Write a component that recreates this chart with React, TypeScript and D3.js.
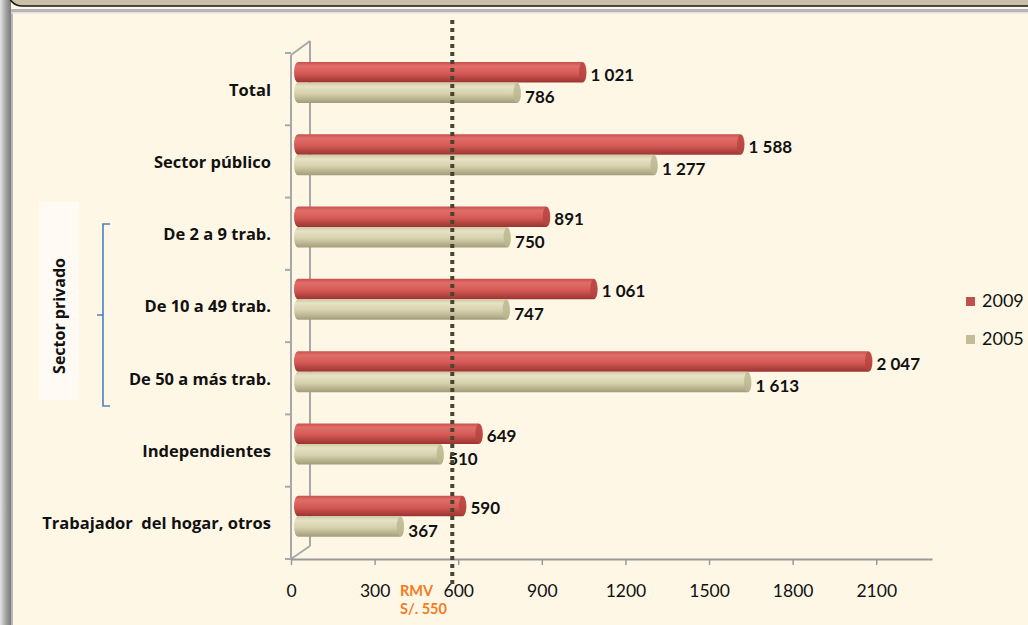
import React, { useEffect, useRef } from "react";
import * as d3 from "d3";

const categories = [
  "Total",
  "Sector público",
  "De 2 a 9 trab.",
  "De 10 a 49 trab.",
  "De 50 a más trab.",
  "Independientes",
  "Trabajador  del hogar, otros",
];
const values2009 = [1021, 1588, 891, 1061, 2047, 649, 590];
const values2005 = [786, 1277, 750, 747, 1613, 510, 367];
const seriesNames = ["2009", "2005"];
const xTicks = [0, 300, 600, 900, 1200, 1500, 1800, 2100];
const rmvValue = 550;

const W = 1028;
const H = 625;
const FONT = "Lato, 'Open Sans', sans-serif";
const LABEL_FONT = "'Open Sans', Lato, sans-serif";

const fmt = d3.formatLocale({
  decimal: ",",
  thousands: " ",
  grouping: [3],
  currency: ["", ""],
}).format(",d");

function App() {
  const axisRef = useRef<SVGGElement | null>(null);

  const x = d3.scaleLinear().domain([0, 2300]).range([291, 932]);
  const y = d3.scaleBand().domain(categories).range([53, 559]).padding(0);
  const depth = 7; // 3d offset of bars toward the back wall
  const barH = 20.5;

  useEffect(() => {
    const g = d3.select(axisRef.current);
    g.selectAll("*").remove();
    const axis = d3
      .axisBottom(x)
      .tickValues(xTicks)
      .tickSizeInner(6)
      .tickSizeOuter(0)
      .tickPadding(20)
      .tickFormat((d) => String(d));
    g.attr("transform", "translate(0,559)").call(axis);
    g.select(".domain").attr("stroke", "#9a9a9a").attr("stroke-width", 2);
    g.selectAll(".tick line").attr("stroke", "#9a9a9a").attr("stroke-width", 1.5);
    g.selectAll(".tick text")
      .attr("font-family", FONT)
      .attr("font-size", 17.5)
      .attr("fill", "#111");
  }, []);

  const bars = categories.flatMap((c, i) => [
    { cat: c, s: 0, v: values2009[i] },
    { cat: c, s: 1, v: values2005[i] },
  ]);

  const xBase = x(0) + depth;
  const rmvX = x(rmvValue) + depth + 1;

  return (
    <svg
      width={W}
      height={H}
      style={{ position: "absolute", left: 0, top: 0, display: "block" }}
    >
      <defs>
        <linearGradient id="g2009" x1="0" y1="0" x2="0" y2="1">
          <stop offset="0" stopColor="#c9504c" />
          <stop offset="0.2" stopColor="#e06e6a" />
          <stop offset="0.55" stopColor="#d65a56" />
          <stop offset="1" stopColor="#9a3431" />
        </linearGradient>
        <linearGradient id="g2005" x1="0" y1="0" x2="0" y2="1">
          <stop offset="0" stopColor="#cfc9a3" />
          <stop offset="0.2" stopColor="#e6e2c4" />
          <stop offset="0.55" stopColor="#d6d1ad" />
          <stop offset="1" stopColor="#a39c78" />
        </linearGradient>
        <linearGradient id="shadowL" x1="0" y1="0" x2="1" y2="0">
          <stop offset="0" stopColor="#e4e4e4" />
          <stop offset="0.6" stopColor="#9c9c9c" />
          <stop offset="1" stopColor="#7a7a7a" />
        </linearGradient>
      </defs>

      {/* frame */}
      <rect x={0} y={0} width={W} height={H} fill="#fff7e6" />
      <rect x={0} y={0} width={11} height={H} fill="url(#shadowL)" />
      <rect x={11} y={13} width={2} height={H} fill="#b8b8b8" />
      <rect x={8} y={-24} width={W + 20} height={30} rx={14} fill="#c9c1a7" stroke="#1a1a1a" strokeWidth={1.6} />
      <rect x={11} y={9} width={W} height={4} fill="#b5b5b5" />
      <rect x={11} y={12} width={W} height={1.5} fill="#e0e0e0" />

      {/* walls */}
      <g stroke="#a8a8a8" strokeWidth={2} fill="none">
        <line x1={291} y1={55} x2={291} y2={559} />
        <line x1={310} y1={41} x2={310} y2={546} />
        <line x1={291} y1={55} x2={310} y2={41} />
        <line x1={291} y1={559} x2={310} y2={546} />
        {y.domain().concat(["end"]).map((c, i) => {
          const yy = 53 + i * y.bandwidth();
          return <line key={i} x1={285} x2={291} y1={yy} y2={yy} />;
        })}
      </g>

      {/* bars */}
      {bars.map((b, i) => {
        const y0 = (y(b.cat) as number) + 9 + b.s * barH;
        const x1 = x(b.v) + depth;
        const r = barH / 2;
        const rx = 4;
        const cap = b.s === 0 ? "#b5433f" : "#bdb690";
        return (
          <g key={i}>
            <path
              d={`M${xBase},${y0} L${x1},${y0} A${rx},${r} 0 0 1 ${x1},${y0 + barH} L${xBase},${y0 + barH} A${rx},${r} 0 0 1 ${xBase},${y0} Z`}
              fill={`url(#g${seriesNames[b.s]})`}
            />
            <ellipse cx={x1} cy={y0 + r} rx={rx - 0.5} ry={r - 0.5} fill={cap} opacity={0.8} />
            <text
              x={x1 + rx + 4}
              y={y0 + r + (b.s === 0 ? 4 : 6)}
              dominantBaseline="middle"
              fontFamily={FONT}
              fontWeight="bold"
              fontSize={17}
              fill="#111"
            >
              {fmt(b.v)}
            </text>
          </g>
        );
      })}

      {/* category labels */}
      {categories.map((c) => (
        <text
          key={c}
          x={271}
          y={(y(c) as number) + y.bandwidth() / 2 + 2}
          textAnchor="end"
          dominantBaseline="middle"
          fontFamily={LABEL_FONT}
          fontWeight="bold"
          fontSize={16.5}
          fill="#111"
          style={{ whiteSpace: "pre" }}
        >
          {c}
        </text>
      ))}

      <g ref={axisRef} />

      {/* RMV line */}
      <line
        x1={rmvX}
        x2={rmvX}
        y1={20}
        y2={584}
        stroke="#4a4330"
        strokeWidth={4}
        strokeDasharray="4 4"
      />
      <text x={400} y={592} dominantBaseline="middle" fontFamily={FONT} fontWeight="bold" fontSize={14.5} fill="#f47b20">
        RMV
      </text>
      <text x={400} y={610} dominantBaseline="middle" fontFamily={FONT} fontWeight="bold" fontSize={14.5} fill="#f47b20">
        S/. 550
      </text>

      {/* sector privado group */}
      <rect x={39} y={202} width={40} height={198} fill="#fffaf4" />
      <text
        transform="translate(61,316) rotate(-90)"
        textAnchor="middle"
        dominantBaseline="middle"
        fontFamily={LABEL_FONT}
        fontWeight="bold"
        fontSize={16}
        fill="#111"
      >
        Sector privado
      </text>
      <path
        d="M110,224 L103,224 L103,406 L110,406 M103,315 L97,315"
        fill="none"
        stroke="#4f81bd"
        strokeWidth={1.6}
      />

      {/* legend */}
      {seriesNames.map((s, i) => (
        <g key={s} transform={`translate(966,${297 + i * 38})`}>
          <rect width={9} height={9} fill={i === 0 ? "#c0504d" : "#c4bd97"} />
          <text x={16} y={5} dominantBaseline="middle" fontFamily={FONT} fontSize={18} fill="#111">
            {s}
          </text>
        </g>
      ))}
    </svg>
  );
}

export default App;
